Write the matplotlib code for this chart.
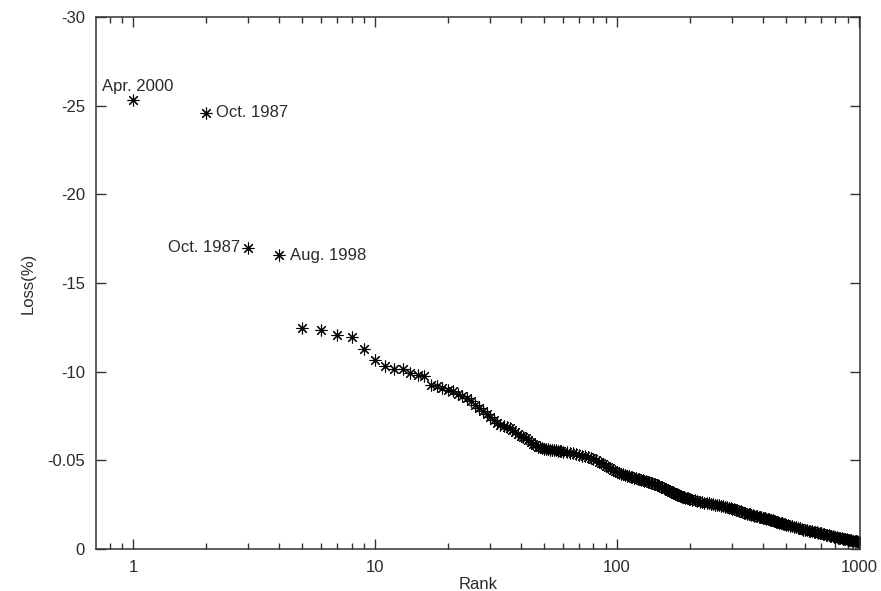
import matplotlib.pyplot as plt
from matplotlib.ticker import FixedLocator, LogLocator, NullFormatter

plt.rcParams["font.family"] = ["Liberation Sans", "DejaVu Sans"]

# largest losses (rank -> loss in %)
ranks_top = list(range(1, 61))
loss_top = [
    25.3, 24.6, 17.0, 16.6, 12.46, 12.35, 12.1, 11.96, 11.3, 10.66,
    10.32, 10.18, 10.15, 9.95, 9.8, 9.76, 9.28, 9.2, 9.1, 8.97,
    8.9, 8.76, 8.65, 8.5, 8.35, 8.15, 7.98, 7.8, 7.6, 7.42,
    7.3, 7.1, 6.98, 6.93, 6.88, 6.8, 6.72, 6.62, 6.5, 6.4,
    6.32, 6.25, 6.15, 6.05, 5.95, 5.85, 5.78, 5.74, 5.7, 5.67,
    5.65, 5.63, 5.61, 5.6, 5.58, 5.57, 5.55, 5.54, 5.52, 5.5,
]
ranks_mid = list(range(62, 201, 2))
loss_mid = [
    5.47, 5.44, 5.4, 5.36, 5.32, 5.27, 5.22, 5.17, 5.12, 5.07,
    5.0, 4.93, 4.86, 4.78, 4.7, 4.62, 4.55, 4.48, 4.42, 4.36,
    4.3, 4.25, 4.21, 4.17, 4.14, 4.11, 4.08, 4.05, 4.03, 4.0,
    3.97, 3.94, 3.91, 3.88, 3.86, 3.83, 3.8, 3.77, 3.74, 3.71,
    3.68, 3.65, 3.62, 3.59, 3.55, 3.52, 3.48, 3.44, 3.4, 3.37,
    3.33, 3.29, 3.26, 3.22, 3.19, 3.16, 3.13, 3.1, 3.07, 3.04,
    3.01, 2.98, 2.96, 2.94, 2.92, 2.9, 2.88, 2.86, 2.84, 2.82,
]
ranks_low = list(range(205, 501, 5))
loss_low = [
    2.78, 2.74, 2.7, 2.67, 2.64, 2.61, 2.59, 2.57, 2.55, 2.53,
    2.51, 2.49, 2.47, 2.45, 2.42, 2.39, 2.36, 2.33, 2.3, 2.27,
    2.24, 2.21, 2.18, 2.15, 2.12, 2.09, 2.06, 2.03, 2.0, 1.98,
    1.95, 1.93, 1.91, 1.89, 1.87, 1.85, 1.83, 1.81, 1.79, 1.77,
    1.75, 1.73, 1.71, 1.69, 1.67, 1.65, 1.63, 1.61, 1.59, 1.57,
    1.55, 1.53, 1.51, 1.49, 1.47, 1.45, 1.43, 1.41, 1.39, 1.37,
]
ranks_tail = list(range(510, 1001, 10))
loss_tail = [
    1.34, 1.31, 1.28, 1.25, 1.22, 1.19, 1.16, 1.13, 1.1, 1.08,
    1.06, 1.04, 1.02, 1.0, 0.98, 0.96, 0.94, 0.92, 0.9, 0.88,
    0.86, 0.84, 0.82, 0.8, 0.78, 0.76, 0.74, 0.72, 0.7, 0.68,
    0.67, 0.65, 0.64, 0.62, 0.61, 0.59, 0.58, 0.56, 0.55, 0.53,
    0.52, 0.51, 0.49, 0.48, 0.47, 0.45, 0.44, 0.43, 0.41, 0.4,
]

ranks = ranks_top + ranks_mid + ranks_low + ranks_tail
losses = loss_top + loss_mid + loss_low + loss_tail

# labelled events: (rank, text, ha, text x, text y)
events = [
    (1, "Apr. 2000", "left", 0.745, -26.1),
    (2, "Oct. 1987", "left", 2.2, -24.6),
    (3, "Oct. 1987", "right", 2.77, -17.0),
    (4, "Aug. 1998", "left", 4.45, -16.58),
]

ytick_vals = [0, -5, -10, -15, -20, -25, -30]
ytick_labels = ["0", "-0.05", "-10", "-15", "-20", "-25", "-30"]

fig = plt.figure(figsize=(8.81, 5.91), dpi=100)
ax = fig.add_axes([0.109, 0.071, 0.867, 0.9])

ax.plot(ranks, [-v for v in losses], linestyle="none", marker=(8, 2, 0),
        markersize=8.5, markeredgewidth=0.8, color="black")

txt_color = "#2b2b2b"
for _, label, ha, tx, ty in events:
    ax.text(tx, ty, label, ha=ha, va="center", fontsize=12, color=txt_color)

ax.set_xscale("log")
ax.set_xlim(0.703, 1010)
ax.set_ylim(0, -30)

ax.xaxis.set_major_locator(FixedLocator([1, 10, 100, 1000]))
ax.set_xticklabels(["1", "10", "100", "1000"])
ax.xaxis.set_minor_locator(LogLocator(base=10, subs=range(2, 10)))
ax.xaxis.set_minor_formatter(NullFormatter())
ax.set_yticks(ytick_vals)
ax.set_yticklabels(ytick_labels)

ax.tick_params(which="both", direction="in", top=True, right=True,
               colors="#333333", labelcolor=txt_color, labelsize=12, width=1)
ax.tick_params(which="major", length=7, pad=8)
ax.tick_params(which="minor", length=4)
for sp in ax.spines.values():
    sp.set_color("#333333")
    sp.set_linewidth(1.1)

ax.set_xlabel("Rank", fontsize=12, color=txt_color, labelpad=1)
ax.set_ylabel("Loss(%)", fontsize=12, color=txt_color, labelpad=8)

fig.savefig("out.png", dpi=100)
